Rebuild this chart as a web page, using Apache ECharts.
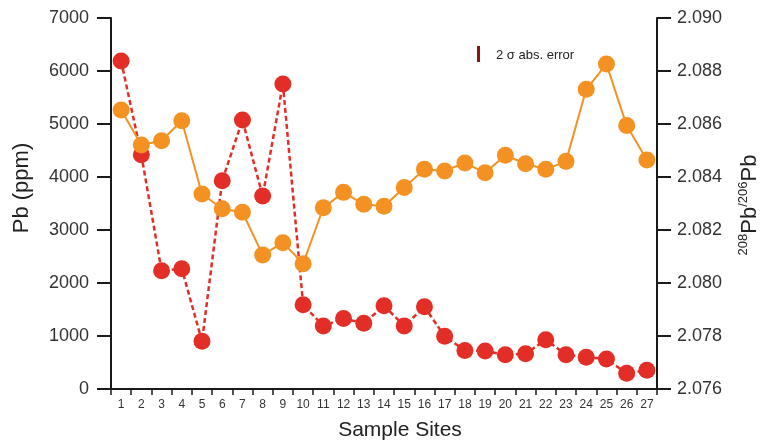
<!DOCTYPE html>
<html>
<head>
<meta charset="utf-8">
<script src="https://cdn.jsdelivr.net/npm/echarts@6/dist/echarts.min.js"></script>
<style>html,body{margin:0;padding:0;background:#fff}#c{width:763px;height:447px}</style>
</head>
<body>
<div id="c"></div>
<script>
const sites = ['1','2','3','4','5','6','7','8','9','10','11','12','13','14','15','16','17','18','19','20','21','22','23','24','25','26','27'];
const pbPpm = [6190, 4420, 2230, 2270, 900, 3930, 5075, 3640, 5755, 1590, 1190, 1330, 1240, 1570, 1190, 1550, 995, 725, 718, 645, 665, 930, 648, 600, 566, 296, 352];
const pbRatio = [2.08653, 2.08521, 2.08537, 2.08612, 2.08336, 2.08280, 2.08267, 2.08106, 2.08152, 2.08073, 2.08284, 2.08342, 2.08297, 2.08290, 2.08360, 2.08429, 2.08423, 2.08453, 2.08416, 2.08482, 2.08450, 2.08429, 2.08459, 2.08731, 2.08826, 2.08594, 2.08464];
const leftTicks = [0, 7000, 1000];
const rightTicks = [2.076, 2.090, 0.002];

const chart = echarts.init(document.getElementById('c'), null, {renderer: 'canvas'});
const font = 'Liberation Sans, Arial, sans-serif';
const axisLineStyle = {color: '#1a1a1a', width: 2};
chart.setOption({
  animation: false,
  backgroundColor: '#fff',
  grid: {left: 111, right: 106, top: 18, bottom: 58, containLabel: false, outerBoundsMode: 'none'},
  xAxis: {
    type: 'category',
    data: sites,
    boundaryGap: true,
    axisLine: {lineStyle: axisLineStyle},
    axisTick: {show: true, length: 6, inside: false, lineStyle: {color: '#1a1a1a', width: 1.5}},
    axisLabel: {fontFamily: font, fontSize: 12, color: '#333', margin: 10, interval: 0},
    splitLine: {show: false}
  },
  yAxis: [{
    type: 'value',
    min: leftTicks[0], max: leftTicks[1], interval: leftTicks[2],
    axisLine: {show: true, lineStyle: axisLineStyle},
    axisTick: {show: true, length: 14, lineStyle: {color: '#1a1a1a', width: 2}},
    axisLabel: {fontFamily: font, fontSize: 18, color: '#333', margin: 22, formatter: v => String(v)},
    splitLine: {show: false}
  }, {
    type: 'value',
    position: 'right',
    min: rightTicks[0], max: rightTicks[1], interval: rightTicks[2],
    axisLine: {show: true, lineStyle: axisLineStyle},
    axisTick: {show: true, length: 14, lineStyle: {color: '#1a1a1a', width: 2}},
    axisLabel: {fontFamily: font, fontSize: 18, color: '#333', margin: 20, formatter: v => v.toFixed(3)},
    splitLine: {show: false}
  }],
  series: [{
    name: 'Pb (ppm)',
    type: 'line',
    yAxisIndex: 0,
    data: pbPpm,
    symbol: 'circle',
    symbolSize: 17,
    itemStyle: {color: '#e22e26'},
    lineStyle: {color: '#e22e26', width: 2.5, type: [5, 3]},
    z: 2
  }, {
    name: '208Pb/206Pb',
    type: 'line',
    yAxisIndex: 1,
    data: pbRatio,
    symbol: 'circle',
    symbolSize: 17,
    itemStyle: {color: '#f39223'},
    lineStyle: {color: '#f39223', width: 2},
    z: 3
  }],
  graphic: [{
    type: 'rect',
    shape: {x: 477, y: 46, width: 3, height: 16},
    style: {fill: '#8b1414'}
  }, {
    type: 'text',
    x: 496, y: 55,
    style: {text: '2 σ abs. error', font: '13px ' + font, fill: '#222', verticalAlign: 'middle'}
  }, {
    type: 'text',
    x: 22, y: 188,
    rotation: Math.PI / 2,
    style: {text: 'Pb (ppm)', font: '22px ' + font, fill: '#222', align: 'center', verticalAlign: 'middle'}
  }, {
    type: 'text',
    x: 400, y: 430,
    style: {text: 'Sample Sites', font: '21px ' + font, fill: '#222', align: 'center', verticalAlign: 'middle'}
  }, {
    type: 'text',
    x: 749, y: 205,
    rotation: Math.PI / 2,
    style: {
      text: '{sup|208}{big|Pb}{sup|/206}{big|Pb}',
      align: 'center', verticalAlign: 'middle',
      rich: {
        big: {fontFamily: font, fontSize: 22, fill: '#222', verticalAlign: 'bottom', lineHeight: 24},
        sup: {fontFamily: font, fontSize: 13, fill: '#222', verticalAlign: 'top', lineHeight: 24, padding: [0, 0, 8, 0]}
      }
    }
  }]
});
</script>
</body>
</html>
